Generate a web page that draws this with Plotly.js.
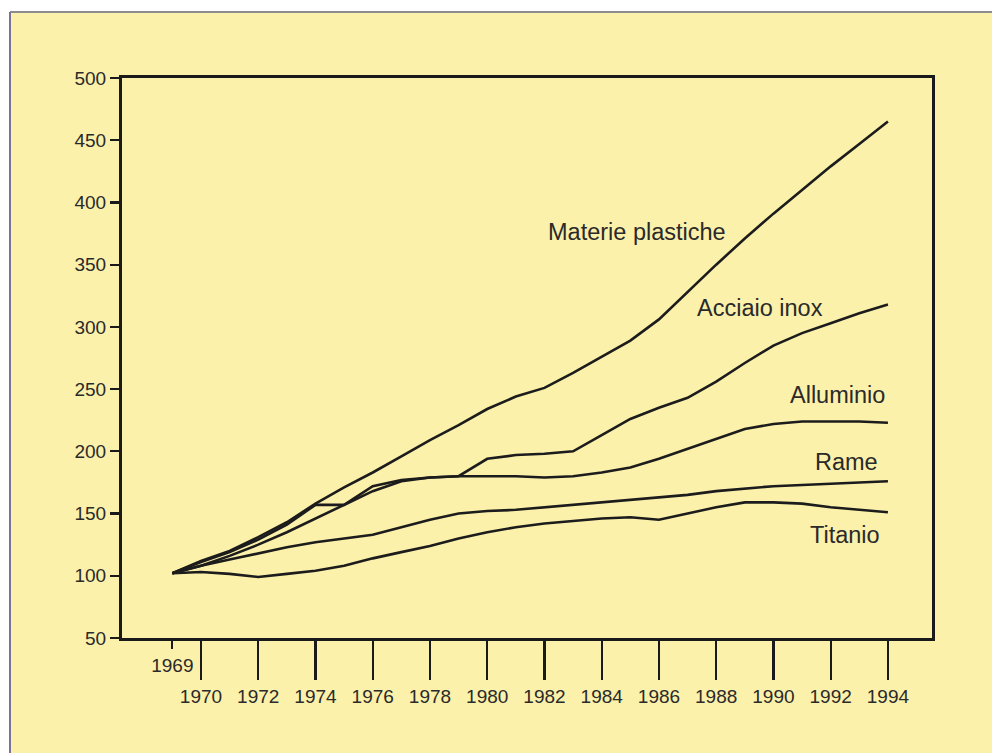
<!DOCTYPE html>
<html>
<head>
<meta charset="utf-8">
<script src="https://cdn.plot.ly/plotly-3.0.1.min.js"></script>
<style>html,body{margin:0;padding:0;background:#fff;}#chart{width:992px;height:753px;}</style>
</head>
<body>
<div id="chart"></div>
<script>
const years = [1969,1970,1971,1972,1973,1974,1975,1976,1977,1978,1979,1980,1981,1982,1983,1984,1985,1986,1987,1988,1989,1990,1991,1992,1993,1994];
const materiePlastiche = [102,112,120,131,143,158,171,183,196,209,221,234,244,251,263,276,289,306,328,350,371,391,410,429,447,465];
const acciaioInox      = [102,108,116,125,135,146,157,172,177,179,180,194,197,198,200,213,226,235,243,256,271,285,295,303,311,318];
const alluminio        = [102,111,119,129,141,157,157,168,176,179,180,180,180,179,180,183,187,194,202,210,218,222,224,224,224,223];
const rame             = [102,108,113,118,123,127,130,133,139,145,150,152,153,155,157,159,161,163,165,168,170,172,173,174,175,176];
const titanio          = [102,103,101.5,99,101.5,104,108,114,119,124,130,135,139,142,144,146,147,145,150,155,159,159,158,155,153,151];
const seriesNames = ["Materie plastiche","Acciaio inox","Alluminio","Rame","Titanio"];
const seriesValues = [materiePlastiche, acciaioInox, alluminio, rame, titanio];
const xTickVals = [1970,1972,1974,1976,1978,1980,1982,1984,1986,1988,1990,1992,1994];
const firstYearTick = [1969];
const yTickVals = [50,100,150,200,250,300,350,400,450,500];

const labelPos = [
  {x:546, y:232, anchor:'left'},
  {x:695, y:308, anchor:'left'},
  {x:887, y:395, anchor:'right'},
  {x:880, y:462, anchor:'right'},
  {x:882, y:535, anchor:'right'}
];

const L = 122, R = 932, T = 78, B = 638, W = 992, H = 753;
const px2x = p => (p - L) / (R - L);
const px2y = p => (B - p) / (B - T);

const lineColor = '#1c1c1c';
const traces = seriesValues.map((v,i) => ({
  type:'scatter', mode:'lines', x: years, y: v, name: seriesNames[i],
  line:{color:lineColor, width:2.6}, hoverinfo:'x+y+name'
}));
traces.push({type:'scatter', mode:'lines', x:[], y:[], xaxis:'x2', yaxis:'y', showlegend:false, hoverinfo:'skip'});

const tickFont = {family:'"Liberation Sans", Arial, Helvetica, sans-serif', size:19, color:'#2a2a2a'};
const labelFont = {family:'"Liberation Sans", Arial, Helvetica, sans-serif', size:23.5, color:'#2a2a2a'};

const annotations = seriesNames.map((n,i) => ({
  text:n, xref:'paper', yref:'paper', x:px2x(labelPos[i].x), y:px2y(labelPos[i].y),
  xanchor:labelPos[i].anchor, yanchor:'middle', showarrow:false, font:labelFont
}));

const yellow = '#fcf1ab';
const shapes = [
  {type:'rect', xref:'paper', yref:'paper', x0:px2x(-5), x1:px2x(W+5), y0:px2y(-5), y1:px2y(12), fillcolor:'#ffffff', line:{width:0}, layer:'below'},
  {type:'rect', xref:'paper', yref:'paper', x0:px2x(-5), x1:px2x(10), y0:px2y(-5), y1:px2y(H+5), fillcolor:'#ffffff', line:{width:0}, layer:'below'},
  {type:'line', xref:'paper', yref:'paper', x0:px2x(10), x1:px2x(W+5), y0:px2y(12), y1:px2y(12), line:{color:'#8c8c8c', width:2}, layer:'below'},
  {type:'line', xref:'paper', yref:'paper', x0:px2x(10), x1:px2x(10), y0:px2y(12), y1:px2y(H+5), line:{color:'#7a7396', width:2}, layer:'below'}
];

const xRange = [1967.24, 1995.54];
const layout = {
  width:W, height:H,
  margin:{l:L, r:W-R, t:T, b:H-B, pad:0},
  paper_bgcolor:yellow, plot_bgcolor:yellow,
  showlegend:false,
  xaxis:{range:xRange, tickvals:xTickVals, ticktext:xTickVals.map(String), ticks:'outside', ticklen:39, tickwidth:2.2, tickcolor:'#1a1a1a',
         showline:true, mirror:true, linecolor:'#1a1a1a', linewidth:3, showgrid:false, zeroline:false, tickfont:tickFont, fixedrange:true},
  xaxis2:{range:xRange, overlaying:'x', anchor:'y', side:'bottom', tickvals:firstYearTick, ticktext:firstYearTick.map(String), ticks:'outside', ticklen:10,
          tickwidth:2.2, tickcolor:'#1a1a1a', showline:false, showgrid:false, zeroline:false, tickfont:tickFont, fixedrange:true},
  yaxis:{range:[50,500], tickvals:yTickVals, ticktext:yTickVals.map(String), ticks:'outside', ticklen:9, tickwidth:2.2, tickcolor:'#1a1a1a',
         showline:true, mirror:true, linecolor:'#1a1a1a', linewidth:3, showgrid:false, zeroline:false, tickfont:tickFont, fixedrange:true},
  annotations:annotations,
  shapes:shapes
};
Plotly.newPlot('chart', traces, layout, {displayModeBar:false, staticPlot:true});
</script>
</body>
</html>
